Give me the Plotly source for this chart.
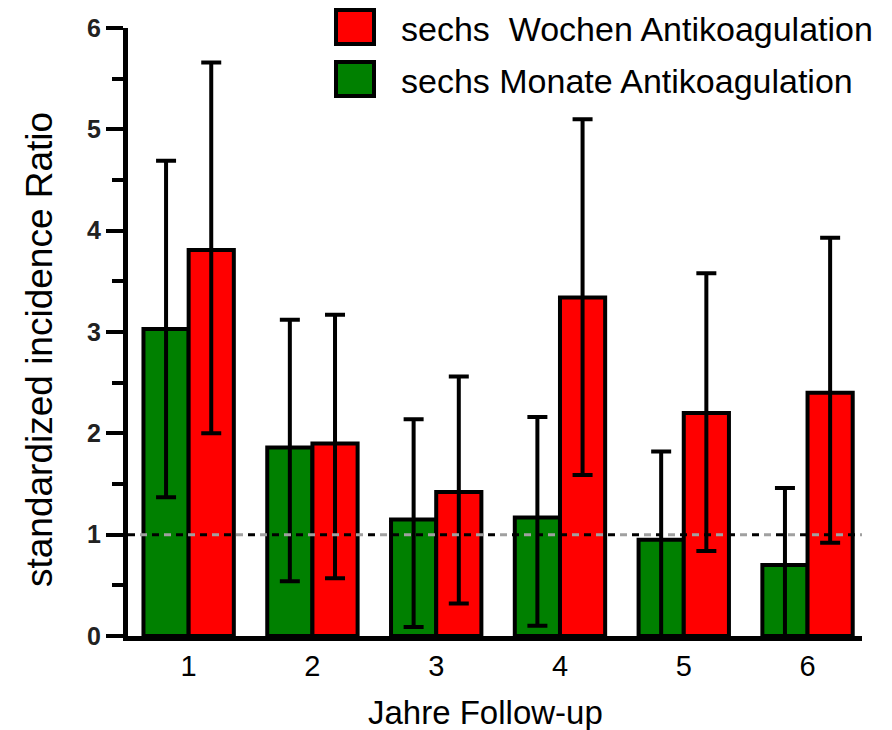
import plotly.graph_objects as go

# Follow-up years
years = [1, 2, 3, 4, 5, 6]

# Six months of anticoagulation: SIR with 95% CI
monate_sir = [3.03, 1.86, 1.15, 1.17, 0.95, 0.70]
monate_hi = [4.69, 3.12, 2.14, 2.16, 1.82, 1.46]
monate_lo = [1.37, 0.54, 0.09, 0.10, 0.00, 0.00]

# Six weeks of anticoagulation: SIR with 95% CI
wochen_sir = [3.81, 1.90, 1.42, 3.34, 2.20, 2.40]
wochen_hi = [5.66, 3.17, 2.56, 5.10, 3.58, 3.93]
wochen_lo = [2.00, 0.57, 0.32, 1.59, 0.84, 0.92]

y_ticks = [0, 1, 2, 3, 4, 5, 6]
reference_level = 1.0

FONT = "Arial, Liberation Sans, sans-serif"

# Plot area in pixels (for placing the legend and titles in paper units)
L, R, T, B, W, H = 128, 30, 28, 94, 892, 730
PW, PH = W - L - R, H - T - B


def px_x(p):
    return (p - L) / PW


def px_y(p):
    return (H - B - p) / PH


def err(sir, hi, lo):
    return dict(
        type="data", symmetric=False,
        array=[h - s for h, s in zip(hi, sir)],
        arrayminus=[s - l for s, l in zip(sir, lo)],
        color="black", thickness=4, width=10,
    )


fig = go.Figure()
fig.add_trace(go.Bar(
    x=years, y=monate_sir, name="sechs Monate Antikoagulation",
    marker=dict(color="#008000", line=dict(color="black", width=4)),
    error_y=err(monate_sir, monate_hi, monate_lo), showlegend=False,
))
fig.add_trace(go.Bar(
    x=years, y=wochen_sir, name="sechs\u00a0 Wochen Antikoagulation",
    marker=dict(color="#ff0000", line=dict(color="black", width=4)),
    error_y=err(wochen_sir, wochen_hi, wochen_lo), showlegend=False,
))

# Reference line at SIR = 1 (black and grey dashes alternating)
ref_x = [0.51, 6.44]
fig.add_trace(go.Scatter(
    x=ref_x, y=[reference_level] * 2, mode="lines",
    line=dict(color="black", width=3, dash="7px,17px"),
    showlegend=False, hoverinfo="skip", cliponaxis=False,
))
fig.add_trace(go.Scatter(
    x=ref_x, y=[reference_level] * 2, mode="lines",
    line=dict(color="#a0a0a0", width=3, dash="0px,12px,7px,5px"),
    showlegend=False, hoverinfo="skip", cliponaxis=False,
))

# Legend drawn with large swatches
legend_items = [
    ("#ff0000", "sechs\u00a0 Wochen Antikoagulation"),
    ("#008000", "sechs Monate Antikoagulation"),
]
for i, (col, label) in enumerate(legend_items):
    top = 10 + i * 52
    fig.add_shape(
        type="rect", xref="paper", yref="paper",
        x0=px_x(336), x1=px_x(374),
        y0=px_y(top + 34), y1=px_y(top),
        fillcolor=col, line=dict(color="black", width=4),
    )
    fig.add_annotation(
        xref="paper", yref="paper",
        x=px_x(399), y=px_y(top + 19),
        text=label, showarrow=False, xanchor="left", yanchor="middle",
        font=dict(family=FONT, size=34, color="black"),
    )

# Axis titles
fig.add_annotation(
    xref="paper", yref="paper", x=px_x(39), y=px_y(350),
    text="standardized incidence Ratio", textangle=-90, showarrow=False,
    xanchor="center", yanchor="middle",
    font=dict(family=FONT, size=37, color="black"),
)
fig.add_annotation(
    xref="paper", yref="paper", x=px_x(485), y=px_y(712),
    text="Jahre Follow-up", showarrow=False,
    xanchor="center", yanchor="middle",
    font=dict(family=FONT, size=33, color="black"),
)

fig.update_layout(
    width=W, height=H,
    margin=dict(l=L, r=R, t=T, b=B),
    paper_bgcolor="white", plot_bgcolor="white",
    barmode="group", bargap=0.27, bargroupgap=0,
    xaxis=dict(
        range=[0.51, 6.44], tickmode="array", tickvals=years,
        ticks="", showgrid=False, zeroline=False,
        showline=True, linecolor="black", linewidth=5,
        tickfont=dict(family=FONT, size=29, color="black"),
    ),
    yaxis=dict(
        range=[0, 6], tickmode="array", tickvals=y_ticks,
        ticks="outside", ticklen=17, tickwidth=4, tickcolor="black",
        showgrid=False, zeroline=False,
        showline=True, linecolor="black", linewidth=5,
        tickfont=dict(family=FONT, size=25, color="#222222", weight="bold"),
        minor=dict(dtick=0.5, ticks="outside", ticklen=11, tickwidth=4,
                   tickcolor="black", showgrid=False),
    ),
)

fig.write_html("out.html")
